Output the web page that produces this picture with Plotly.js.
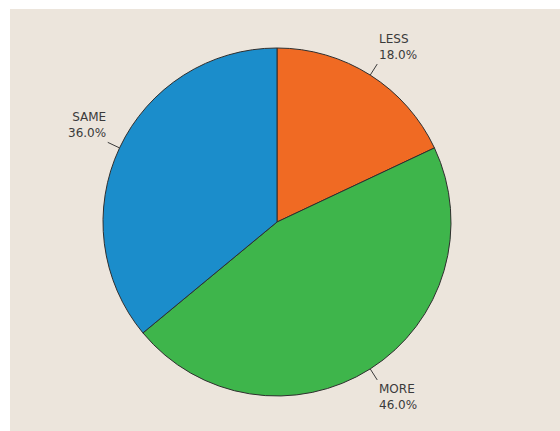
<!DOCTYPE html>
<html>
<head>
<meta charset="utf-8">
<script src="https://cdn.plot.ly/plotly-3.0.1.min.js"></script>
<style>
  html, body { margin: 0; padding: 0; background: #ffffff; width: 560px; height: 431px; overflow: hidden; }
  #chart { position: absolute; left: 10px; top: 9px; width: 550px; height: 422px; }
</style>
</head>
<body>
<div id="chart"></div>
<script>
// Data
const categories = ["LESS", "MORE", "SAME"];
const percents = [18.0, 46.0, 36.0];
const sliceColors = ["#F06A23", "#3EB54B", "#1B8DCB"];

// Layout geometry (pixels inside the plot div)
const W = 550, H = 422;
const CX = 267, CY = 213, R = 174;   // pie centre (from top-left) and radius

const domX = [(CX - R) / W, (CX + R) / W];
const domY = [(H - CY - R) / H, (H - CY + R) / H];

// Leader lines and labels computed from the data angles
const total = percents.reduce((a, b) => a + b, 0);
const shapes = [];
const annotations = [];
let cum = 0;
percents.forEach((v, i) => {
  const mid = (cum + v / 2) / total * 2 * Math.PI; // clockwise from 12 o'clock
  cum += v;
  const s = Math.sin(mid), c = Math.cos(mid);
  const r0 = R * 1.0, r1 = R * 1.075;
  const toPaper = (px, py) => [px / W, 1 - py / H];
  const [x0, y0] = toPaper(CX + r0 * s, CY - r0 * c);
  const [x1, y1] = toPaper(CX + r1 * s, CY - r1 * c);
  shapes.push({
    type: "line", xref: "paper", yref: "paper",
    x0: x0, y0: y0, x1: x1, y1: y1,
    line: { color: "#3a3a3a", width: 1 }
  });
  annotations.push({
    xref: "paper", yref: "paper", x: x1, y: y1,
    text: categories[i] + "<br>" + v.toFixed(1) + "%",
    showarrow: false,
    xanchor: s >= 0 ? "left" : "right",
    yanchor: c >= 0 ? "bottom" : "top",
    align: s >= 0 ? "left" : "right",
    font: { family: "DejaVu Sans, Verdana, sans-serif", size: 12, color: "#3a3a3a" }
  });
});

const trace = {
  type: "pie",
  labels: categories,
  values: percents,
  sort: false,
  direction: "clockwise",
  rotation: 0,
  textinfo: "none",
  hoverinfo: "skip",
  marker: { colors: sliceColors, line: { color: "#2f2f2f", width: 1 } },
  domain: { x: domX, y: domY },
  showlegend: false
};

const layout = {
  width: W, height: H,
  margin: { l: 0, r: 0, t: 0, b: 0 },
  paper_bgcolor: "#ECE5DC",
  plot_bgcolor: "#ECE5DC",
  showlegend: false,
  shapes: shapes,
  annotations: annotations
};

Plotly.newPlot("chart", [trace], layout, { displayModeBar: false, staticPlot: true });
</script>
</body>
</html>
